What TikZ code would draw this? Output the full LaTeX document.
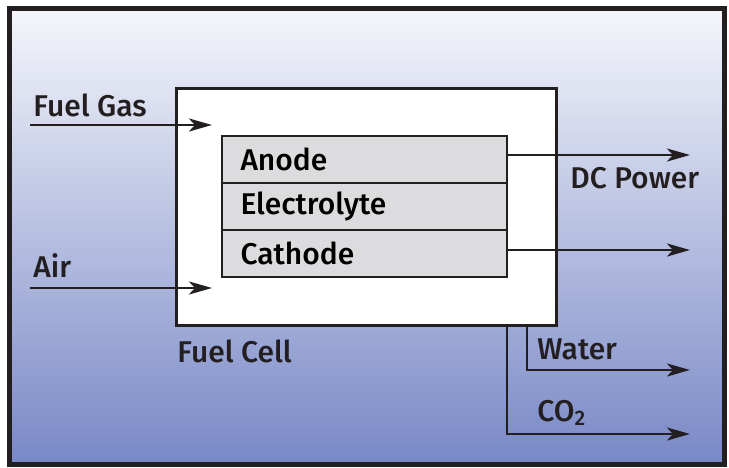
\documentclass[tikz,border=0pt]{standalone}
\usepackage{fontspec}
\setmainfont{Fira Sans}[UprightFont=* Medium]
\usetikzlibrary{arrows.meta,positioning}
\definecolor{framecol}{RGB}{35,31,32}
\definecolor{bgtop}{RGB}{245,246,251}
\definecolor{bgmid}{RGB}{200,207,231}
\definecolor{bgbot}{RGB}{120,136,198}
\definecolor{layerfill}{RGB}{220,220,222}
\begin{document}
\begin{tikzpicture}[
    x=0.5pt, y=-0.5pt,
    cellbox/.style={rectangle, draw=framecol, fill=white, line width=1.5pt,
      minimum width=190pt, minimum height=118.5pt},
    layer/.style={rectangle, draw=framecol, fill=layerfill, line width=1.3pt,
      text width=124pt, inner xsep=9.25pt, inner ysep=0pt, outer sep=0pt,
      minimum height=23.5pt, align=left, font=\fontsize{15}{16}\selectfont},
    lbl/.style={inner sep=0pt, anchor=base west, text=framecol,
      font=\fontsize{15}{16}\selectfont},
    flow/.style={draw=framecol, line width=1.4pt,
      -{Stealth[length=11.5pt, width=6.5pt, inset=3pt]}}
  ]
    \useasboundingbox (0,0) rectangle (729,467);

    % Rahmen
    \shade[top color=bgtop, middle color=bgmid, bottom color=bgbot]
      (9.5,8) rectangle (724,464.5);
    \draw[framecol, line width=2.5pt] (9.5,8) rectangle (724,464.5);

    % Zelle
    \node[cellbox] (cell) at (366,206.5) {};
    \node[layer] (anode) at (364.5,159.5) {Anode};
    \node[layer, below=0pt of anode] (electrolyte) {Electrolyte};
    \node[layer, below=0pt of electrolyte] (cathode) {Cathode};

    % Beschriftungen
    \node[lbl] (fuellbl) at (33,116.5) {Fuel Gas};
    \node[lbl] (airlbl) at (33,277) {Air};
    \node[lbl] (powerlbl) at (570,188) {DC Power};
    \node[lbl] (celllbl) at (177,362) {Fuel Cell};
    \node[lbl] (waterlbl) at (537,359) {Water};
    \node[lbl] (co2lbl) at (537,421.5) {CO\textsubscript{2}};

    % Ein- und Ausgaenge
    \coordinate (fuelin) at (30,125);
    \coordinate (fuelend) at (212,125);
    \coordinate (airin) at (30,288);
    \coordinate (airend) at (212,288);
    \coordinate (anodeout) at (690,155);
    \coordinate (cathodeout) at (690,250);
    \coordinate (waterout) at (690,370);
    \coordinate (co2out) at (690,434);

    \draw[flow] (fuelin) -- (fuelend);
    \draw[flow] (airin) -- (airend);
    \draw[flow] (anode.east |- anodeout) -- (anodeout);
    \draw[flow] (cathode.east |- cathodeout) -- (cathodeout);
    \draw[flow] (cell.south) ++(161,0) |- (waterout);
    \draw[flow] (cell.south) ++(141,0) |- (co2out);
  \end{tikzpicture}
\end{document}
